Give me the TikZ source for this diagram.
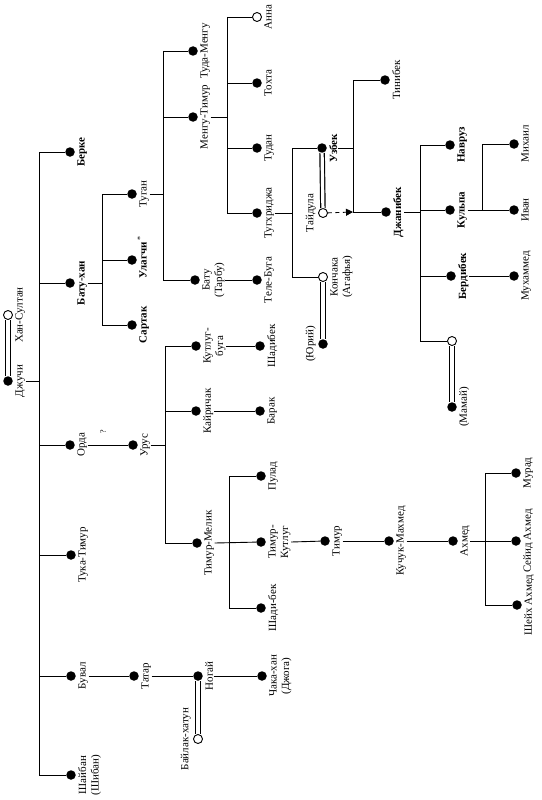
\documentclass[tikz,border=0pt]{standalone}
\usepackage{fontspec}
\setmainfont{Liberation Serif}
\usetikzlibrary{arrows.meta,calc}
\newcommand\nm{\fontsize{11}{12.5}\selectfont}
\newcommand\pp[4][]{\node[pd] (#2) at (#3) {}; \node[labr,#1] (l#2) at ([xshift=6.5pt]#2.center) {#4};}
\newcommand\po[4][]{\node[od] (#2) at (#3) {}; \node[labr,#1] (l#2) at ([xshift=6.5pt]#2.center) {#4};}
\begin{document}
\begin{tikzpicture}[x=1pt,y=-1pt,
  pd/.style={circle,fill=black,inner sep=0pt,minimum size=9.5pt},
  od/.style={circle,draw=black,fill=white,inner sep=0pt,minimum size=9pt,line width=0.9pt},
  lab/.style={rotate=90,inner sep=0.6pt,font=\nm,align=center},
  labr/.style={lab,anchor=north},
  labl/.style={lab,anchor=south},
  bf/.style={font=\nm\bfseries},
  con/.style={line width=0.9pt},
  mar/.style={line width=1.2pt,double=white,double distance=3.2pt},
  note/.style={rotate=90,inner sep=0pt,font=\fontsize{8}{9}\selectfont}]
\useasboundingbox (0,0) rectangle (541,800);
% bar coordinates
\coordinate (b0) at (39,0);
\coordinate (b1) at (102,0);
\coordinate (b2) at (163,0);
\coordinate (b3) at (227,0);
\coordinate (b4) at (292,0);
\coordinate (b5) at (353,0);
\coordinate (b6) at (420,0);
\coordinate (b7) at (482,0);
\coordinate (b8) at (165,0);
\coordinate (b9) at (229,0);
\coordinate (b10) at (485,0);
% persons
\pp{Dzh}{8,381}{Джучи}
\po{KhS}{8,315}{Хан-Султан}
\pp[bf]{Berke}{70,152}{Берке}
\pp[bf]{BatuKhan}{70,283}{Бату-хан}
\pp{Orda}{70,445}{Орда}
\pp{TukaTimur}{71,555}{Тука-Тимур}
\pp{Buval}{71,676}{Бувал}
\pp{Shayban}{71,775}{Шайбан\\(Шибан)}
\pp{Tugan}{132,194}{Туган}
\pp[bf]{Ulagchi}{132,260}{Улагчи}
\pp[bf]{Sartak}{132,325}{Сартак}
\pp{TudaMengu}{193,51}{Туда-Менгу}
\pp{MenguTimur}{193,117}{Менгу-Тимур}
\pp{BatuTarbu}{195,280}{Бату\\(Тарбу)}
\po{Anna}{257,17}{Анна}
\pp{Tokhta}{257,83}{Тохта}
\pp{Tudan}{257,148}{Тудан}
\pp{Tugkh}{257,213}{Тугхриджа}
\pp{TeleBuga}{257,280}{Теле-Буга}
\pp[bf]{Uzbek}{322,148}{Узбек}
\po{Koncha}{323,277}{Кончака\\(Агафья)}
\node[od] (Taydula) at (323,213) {};
\node[labl] (lTaydula) at ([xshift=-6.5pt]Taydula.center) {Тайдула};
\node[pd] (Yuriy) at (323,344) {};
\node[labl] (lYuriy) at ([xshift=-6.5pt]Yuriy.center) {(Юрий)};
\pp{Tinibek}{385,80}{Тинибек}
\pp[bf]{Dzhanibek}{386,212}{Джанибек}
\pp[bf]{Navruz}{450,145}{Навруз}
\pp[bf]{Kulpa}{450,210}{Кульпа}
\pp[bf]{Berdibek}{451,276}{Бердибек}
\node[od] (DaughterDzh) at (452,341) {};
\pp{Mamay}{452,407}{(Мамай)}
\pp{Mikhail}{514,144}{Михаил}
\pp{Ivan}{514,210}{Иван}
\pp{Mukhammed}{514,276}{Мухаммед}
\pp{Urus}{133,445}{Урус}
\pp{KutlugBuga}{196,346}{Кутлуг-\\буга}
\pp{Kayrichak}{196,411}{Кайричак}
\pp{TimurMelik}{197,543}{Тимур-Мелик}
\pp{Shadibek}{260,346}{Шадибек}
\pp{Barak}{260,411}{Барак}
\pp{Pulad}{261,476}{Пулад}
\pp{TimurKutlug}{261,542}{Тимур-\\Кутлуг}
\pp{ShadiBek}{261,608}{Шади-бек}
\pp{Timur}{325,541}{Тимур}
\pp{Kuchuk}{389,541}{Кучук-Махмед}
\pp{Akhmed}{453,541}{Ахмед}
\pp{Murad}{516,473}{Мурад}
\pp{Seyid}{516,541}{Сейид Ахмед}
\pp{Sheykh}{517,605}{Шейх Ахмед}
\pp{Tatar}{134,676}{Татар}
\pp{Nogay}{198,676}{Ногай}
\pp{Chaka}{262,676}{Чака-хан\\(Джога)}
\node[od] (Baylak) at (198,739) {};
\node[labl] (lBaylak) at ([xshift=-6.5pt]Baylak.center) {Байлак-хатун};
\node[note] (q) at (103,432) {?};
\node[note] (ast) at (140,238) {*};
% marriages
\draw[mar] (Dzh) -- (KhS);
\draw[mar] (Uzbek) -- (Taydula);
\draw[mar] (Koncha) -- (Yuriy);
\draw[mar] (DaughterDzh) -- (Mamay);
\draw[mar] (Nogay) -- (Baylak);
% connectors
\begin{scope}[con]
\draw (lDzh.south) -- (lDzh.south -| b0);
\draw (Berke -| b0) -- (Shayban -| b0);
\foreach \c in {Berke,BatuKhan,Orda,TukaTimur,Buval,Shayban} \draw (\c -| b0) -- (\c);
\draw (lBatuKhan.south) -- (lBatuKhan.south -| b1);
\draw (Tugan -| b1) -- (Sartak -| b1);
\foreach \c in {Tugan,Ulagchi,Sartak} \draw (\c -| b1) -- (\c);
\draw (lTugan.south) -- (lTugan.south -| b2);
\draw (TudaMengu -| b2) -- (BatuTarbu -| b2);
\foreach \c in {TudaMengu,MenguTimur,BatuTarbu} \draw (\c -| b2) -- (\c);
\draw (lMenguTimur.south) -- (lMenguTimur.south -| b3);
\draw (Anna -| b3) -- (Tugkh -| b3);
\foreach \c in {Anna,Tokhta,Tudan,Tugkh} \draw (\c -| b3) -- (\c);
\draw (lBatuTarbu.south) -- (TeleBuga);
\draw (lTugkh.south) -- (lTugkh.south -| b4);
\draw (Uzbek -| b4) -- (Koncha -| b4);
\foreach \c in {Uzbek,Koncha} \draw (\c -| b4) -- (\c);
\draw (lUzbek.south) -- (lUzbek.south -| b5);
\draw (Tinibek -| b5) -- (Dzhanibek -| b5);
\draw (Tinibek -| b5) -- (Tinibek);
\draw (Dzhanibek -| b5) -- (Dzhanibek);
\draw[dashed,dash pattern=on 4pt off 3.5pt,-{Triangle[length=7pt,width=7pt]}] (Taydula) -- (Dzhanibek -| b5);
\draw (lDzhanibek.south) -- (lDzhanibek.south -| b6);
\draw (Navruz -| b6) -- (DaughterDzh -| b6);
\foreach \c in {Navruz,Kulpa,Berdibek,DaughterDzh} \draw (\c -| b6) -- (\c);
\draw (lKulpa.south) -- (Ivan);
\draw (Mikhail -| b7) -- (Ivan -| b7);
\draw (Mikhail -| b7) -- (Mikhail);
\draw (lBerdibek.south) -- (Mukhammed);
\draw (lOrda.south) -- (Urus);
\draw (lUrus.south) -- (lUrus.south -| b8);
\draw (KutlugBuga -| b8) -- (TimurMelik -| b8);
\foreach \c in {KutlugBuga,Kayrichak,TimurMelik} \draw (\c -| b8) -- (\c);
\draw (lKutlugBuga.south) -- (Shadibek);
\draw (lKayrichak.south) -- (Barak);
\draw (lTimurMelik.south) -- (TimurKutlug);
\draw (Pulad -| b9) -- (ShadiBek -| b9);
\draw (Pulad -| b9) -- (Pulad);
\draw (ShadiBek -| b9) -- (ShadiBek);
\draw (lTimurKutlug.south) -- (Timur);
\draw (lTimur.south) -- (Kuchuk);
\draw (lKuchuk.south) -- (Akhmed);
\draw (lAkhmed.south) -- (Seyid);
\draw (Murad -| b10) -- (Sheykh -| b10);
\draw (Murad -| b10) -- (Murad);
\draw (Sheykh -| b10) -- (Sheykh);
\draw (lBuval.south) -- (Tatar);
\draw (lTatar.south) -- (Nogay);
\draw (lNogay.south) -- (Chaka);
\end{scope}
\end{tikzpicture}
\end{document}
